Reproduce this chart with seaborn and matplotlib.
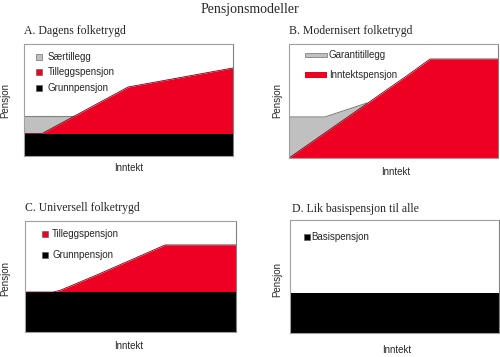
import numpy as np
import matplotlib
matplotlib.use("Agg")
import matplotlib.pyplot as plt
from matplotlib.patches import Rectangle
import seaborn as sns

sns.set_style("white")
plt.rcParams['font.family'] = ['Liberation Sans', 'DejaVu Sans']

RED = "#ee0022"
GRAY = "#c0c0c0"
BLACK = "#000000"

# ---- Data (0-100 scale of income / pension) ----
A_grunn_x = [0, 100]
A_grunn = [20, 20]
A_till_x = [0, 8.6, 49.8, 100]
A_till = [20, 20, 61.6, 78.6]
A_saer_x = [0, 24.1]
A_saer = [35.7, 35.7]

B_inntekt_x = [0, 55.5, 67.5, 100]
B_inntekt = [0, 71.0, 86.8, 86.8]
B_garanti_x = [0, 17.2, 37.3]
B_garanti = [36, 36, 48.2]

C_grunn_x = [0, 100]
C_grunn = [36, 36]
C_till_x = [0, 13.3, 16.6, 34, 66.4, 100]
C_till = [36, 36, 37.5, 51.4, 78.4, 78.4]

D_basis_x = [0, 100]
D_basis = [35.4, 35.4]

LFS = 7.0

fig = plt.figure(figsize=(5.0, 3.57), dpi=100)

def mkax(x0, x1, y0, y1):
    W, H = 500, 357
    ax = fig.add_axes([x0 / W, (H - y1) / H, (x1 - x0) / W, (y1 - y0) / H])
    ax.set_xlim(0, 100)
    ax.set_ylim(0, 100)
    ax.set_xticks([])
    ax.set_yticks([])
    for s in ax.spines.values():
        s.set_color("#a0a0a0")
        s.set_linewidth(0.8)
    ax.spines['right'].set_color("#808080")
    return ax

def deco(ax, title, ty, ylx, yly, xlx, xly, tx=0.0):
    ax.text(tx, ty, title, transform=ax.transAxes, ha='left', va='center',
            fontsize=8.5, family='Liberation Serif')
    ax.text(ylx, yly, "Pensjon", transform=ax.transAxes, rotation=90,
            ha='center', va='center', fontsize=LFS)
    ax.text(xlx, xly, "Inntekt", transform=ax.transAxes,
            ha='center', va='center', fontsize=LFS)

def sq(ax, x, y, color, label, tx):
    ax.plot([x], [y], marker='s', ms=4.5, color=color, mec="#555555", mew=0.4,
            transform=ax.transAxes, clip_on=False, ls='none')
    ax.text(tx, y, label, transform=ax.transAxes, ha='left', va='center', fontsize=LFS)

fig.text(0.5, 1 - 10 / 357, "Pensjonsmodeller", ha='center', va='center',
         fontsize=10, family='Liberation Serif')

# ---- A ----
axA = mkax(24, 233, 44, 156)
axA.fill_between(A_saer_x, A_grunn[0], A_saer, color=GRAY, lw=0)
sns.lineplot(x=A_saer_x, y=A_saer, ax=axA, color="#808080", lw=0.8)
axA.fill_between(A_till_x, A_grunn[0], A_till, color=RED, lw=0)
sns.lineplot(x=A_till_x, y=A_till, ax=axA, color="#700010", lw=0.6)
axA.fill_between(A_grunn_x, 0, A_grunn, color=BLACK, lw=0)
deco(axA, "A. Dagens folketrygd", 1.116, -0.091, 0.5, 0.5, -0.107)
sq(axA, 0.072, 0.884, GRAY, "Særtillegg", 0.112)
sq(axA, 0.072, 0.750, RED, "Tilleggspensjon", 0.112)
sq(axA, 0.072, 0.607, BLACK, "Grunnpensjon", 0.112)

# ---- B ----
axB = mkax(289, 498, 44, 158)
axB.fill_between(B_garanti_x, 0, B_garanti, color=GRAY, lw=0)
sns.lineplot(x=B_garanti_x, y=B_garanti, ax=axB, color="#808080", lw=0.8)
axB.fill_between(B_inntekt_x, 0, B_inntekt, color=RED, lw=0)
sns.lineplot(x=B_inntekt_x, y=B_inntekt, ax=axB, color="#700010", lw=0.6)
deco(axB, "B. Modernisert folketrygd", 1.114, -0.057, 0.5, 0.51, -0.123)
axB.add_patch(Rectangle((0.077, 0.885), 0.105, 0.04, transform=axB.transAxes,
                        facecolor=GRAY, edgecolor="#707070", lw=0.5, clip_on=False))
axB.text(0.19, 0.905, "Garantitillegg", transform=axB.transAxes, ha='left',
         va='center', fontsize=LFS)
axB.add_patch(Rectangle((0.077, 0.705), 0.105, 0.045, transform=axB.transAxes,
                        facecolor=RED, edgecolor="none", lw=0, clip_on=False))
axB.text(0.19, 0.728, "Inntektspensjon", transform=axB.transAxes, ha='left',
         va='center', fontsize=LFS)

# ---- C ----
axC = mkax(25, 236, 221, 332)
axC.fill_between(C_till_x, C_grunn[0], C_till, color=RED, lw=0)
sns.lineplot(x=C_till_x, y=C_till, ax=axC, color="#700010", lw=0.6)
axC.fill_between(C_grunn_x, 0, C_grunn, color=BLACK, lw=0)
deco(axC, "C. Universell folketrygd", 1.117, -0.095, 0.486, 0.49, -0.126)
sq(axC, 0.095, 0.883, RED, "Tilleggspensjon", 0.128)
sq(axC, 0.095, 0.694, BLACK, "Grunnpensjon", 0.128)

# ---- D ----
axD = mkax(290, 499, 220, 333)
axD.fill_between(D_basis_x, 0, D_basis, color=BLACK, lw=0)
deco(axD, "D. Lik basispensjon til alle", 1.097, -0.062, 0.47, 0.51, -0.15, tx=0.01)
sq(axD, 0.081, 0.85, BLACK, "Basispensjon", 0.104)

for ax in (axA, axB, axC, axD):
    ax.set_xlabel("")
    ax.set_ylabel("")

fig.savefig("out.png", dpi=100)
